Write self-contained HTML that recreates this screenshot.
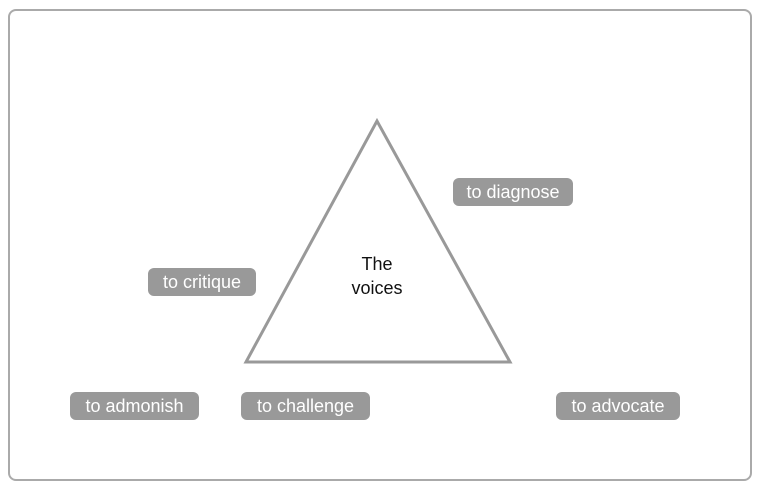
<!DOCTYPE html>
<html><head><style>
body{margin:0;width:759px;height:487px;background:#fff;position:relative;font-family:"Liberation Sans",sans-serif;overflow:hidden}
.frame{position:absolute;left:8px;top:9px;width:744px;height:472px;border:2px solid #aaa;border-radius:8px;box-sizing:border-box}
.b{position:absolute;height:28px;line-height:28px;background:#999;color:#fff;border-radius:6px;font-size:18px;text-align:center}
</style></head><body>
<div class="frame"></div>
<svg width="759" height="487" style="position:absolute;left:0;top:0">
<polygon points="377,121 246,362 510,362" fill="none" stroke="#999" stroke-width="3"/>
<text x="377" y="270" text-anchor="middle" font-size="18" font-family="Liberation Sans" fill="#111">The</text>
<text x="377" y="294" text-anchor="middle" font-size="18" font-family="Liberation Sans" fill="#111">voices</text>
</svg>
<div class="b" style="left:453px;top:178px;width:120px">to diagnose</div>
<div class="b" style="left:148px;top:268px;width:108px">to critique</div>
<div class="b" style="left:241px;top:392px;width:129px">to challenge</div>
<div class="b" style="left:70px;top:392px;width:129px">to admonish</div>
<div class="b" style="left:556px;top:392px;width:124px">to advocate</div>
</body></html>
